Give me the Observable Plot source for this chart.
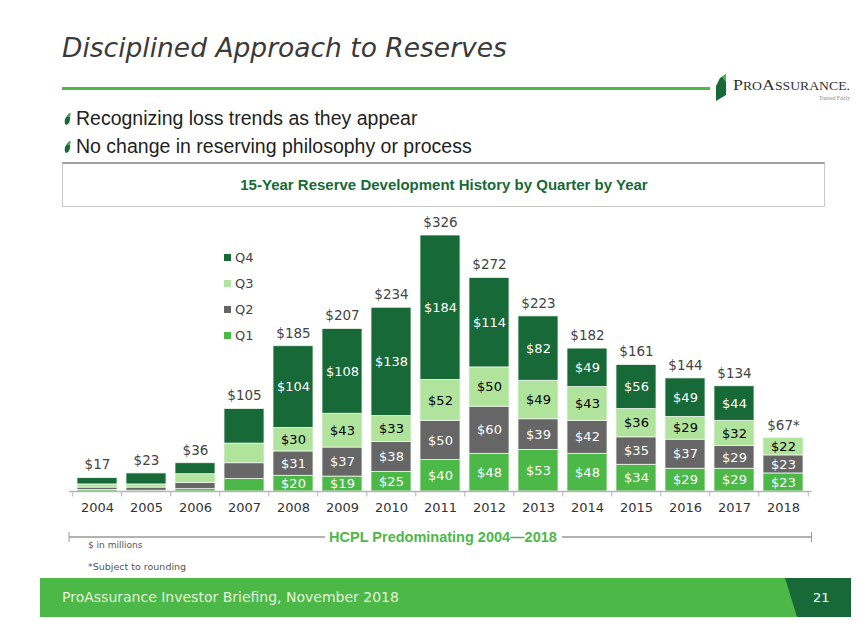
<!DOCTYPE html>
<html>
<head>
<meta charset="utf-8">
<script src="https://cdn.jsdelivr.net/npm/d3@7"></script>
<script src="https://cdn.jsdelivr.net/npm/@observablehq/plot@0.6"></script>
<style>
  html, body { margin: 0; padding: 0; background: #fff; }
  #slide { position: relative; width: 867px; height: 635px; overflow: hidden; font-family: "DejaVu Sans", Verdana, sans-serif; }
  .abs { position: absolute; }
  #title { left: 62px; top: 32px; font-size: 26.5px; font-style: italic; color: #3a3a3a; white-space: nowrap; }
  #rule { left: 62px; top: 87px; width: 648px; height: 3px; background: #4cb847; }
  .bullet { left: 62px; font-family: "Liberation Sans", Arial, sans-serif; font-size: 19.5px; color: #222; white-space: nowrap; display: flex; align-items: center; }
  .bullet svg { margin-right: 2px; }
  #box { left: 62px; top: 162px; width: 763px; height: 45px; border: 1px solid #c8c8c8; border-top: 2px solid #a0a0a0; box-sizing: border-box; }
  #subtitle { left: 62px; top: 176px; width: 764px; text-align: center; font-family: "Liberation Sans", Arial, sans-serif; font-weight: bold; font-size: 15px; color: #176937; }
  #chart { left: 0; top: 210px; }
  .leg { left: 224px; font-size: 13px; color: #444; display: flex; align-items: center; }
  .leg span.sw { display: inline-block; width: 7px; height: 7px; margin-right: 4px; }
  #footnote1 { left: 88px; top: 540px; font-size: 9px; color: #555; }
  #footnote2 { left: 88px; top: 561px; font-size: 9.5px; color: #555; }
  #band { left: 40px; top: 578px; width: 811px; height: 39px; background: #4cb847; }
  #bandtext { left: 62px; top: 589px; font-size: 14px; color: #e4f3dc; white-space: nowrap; }
  #pagenum { left: 813px; top: 590px; font-size: 13px; color: #fff; }
  #hcpl { left: 0; top: 527px; }
  #logo { left: 714px; top: 74px; }
</style>
</head>
<body>
<div id="slide">
  <div id="title" class="abs">Disciplined Approach to Reserves</div>
  <div id="rule" class="abs"></div>
  <svg id="logo" class="abs" width="145" height="30">
    <path d="M6,4 L12,0 L12,21 L2,27 L2,12 Z" fill="#176937"/>
    <path d="M8,3 L12,0 L12,8 Z" fill="#4cb847"/>
    <text x="19" y="16" font-family="Liberation Serif, serif" font-size="15" fill="#333" textLength="117" lengthAdjust="spacingAndGlyphs">P<tspan font-size="11.5">RO</tspan>A<tspan font-size="11.5">SSURANCE.</tspan></text>
    <text x="136" y="26" text-anchor="end" font-family="Liberation Serif, serif" font-size="5.5" fill="#888">Trusted Fairly</text>
  </svg>
  <div class="abs bullet" style="top:107px"><svg width="12" height="14"><path d="M3,7 Q6,2 8,1 L8,7 Q8,12 4,13 Q2,11 3,7 Z" fill="#176937"/><path d="M5,5 Q7,2 9,1 L8,5 Z" fill="#4cb847"/></svg>Recognizing loss trends as they appear</div>
  <div class="abs bullet" style="top:135px"><svg width="12" height="14"><path d="M3,7 Q6,2 8,1 L8,7 Q8,12 4,13 Q2,11 3,7 Z" fill="#176937"/><path d="M5,5 Q7,2 9,1 L8,5 Z" fill="#4cb847"/></svg>No change in reserving philosophy or process</div>
  <div id="box" class="abs"></div>
  <div id="subtitle" class="abs">15-Year Reserve Development History by Quarter by Year</div>
  <div id="chart" class="abs"></div>
  <div id="legend"></div>
  <svg id="hcpl" class="abs" width="867" height="22"></svg>
  <div id="footnote1" class="abs">$ in millions</div>
  <div id="footnote2" class="abs">*Subject to rounding</div>
  <div id="band" class="abs"></div>
  <svg class="abs" style="left:0;top:578px" width="867" height="39"><path d="M785,0 L851,0 L851,39 L797,39 Z" fill="#176937"/></svg>
  <div id="bandtext" class="abs">ProAssurance Investor Briefing, November 2018</div>
  <div id="pagenum" class="abs">21</div>
</div>
<script>
// ---- data ----
const years = [2004, 2005, 2006, 2007, 2008, 2009, 2010, 2011, 2012, 2013, 2014, 2015, 2016, 2017, 2018];
const q1 = [2, 1, 3, 16, 20, 19, 25, 40, 48, 53, 48, 34, 29, 29, 23];
const q2 = [3, 4, 8, 20, 31, 37, 38, 50, 60, 39, 42, 35, 37, 29, 23];
const q3 = [4, 4, 11, 25, 30, 43, 33, 52, 50, 49, 43, 36, 29, 32, 22];
const q4 = [8, 14, 14, 44, 104, 108, 138, 184, 114, 82, 49, 56, 49, 44, 0];
const totals = [17, 23, 36, 105, 185, 207, 234, 326, 272, 223, 182, 161, 144, 134, 67];
const totalLabels = ["$17", "$23", "$36", "$105", "$185", "$207", "$234", "$326", "$272", "$223", "$182", "$161", "$144", "$134", "$67*"];
const labelledFrom = 2008;
const quarters = ["Q1", "Q2", "Q3", "Q4"];
const quarterColors = ["#4cb847", "#666666", "#b0e39c", "#176937"];
const legendOrder = ["Q4", "Q3", "Q2", "Q1"];
const bracketText = "HCPL Predominating 2004\u20142018";

// ---- long table ----
const series = [q1, q2, q3, q4];
const rows = [];
years.forEach((yr, i) => {
  quarters.forEach((q, j) => rows.push({year: yr, q, value: series[j][i]}));
});

const W = 867, H = 310;
const mL = 69, mR = 55.5;
const step = (W - mL - mR) / years.length;

const labelText = (which) => (d) =>
  d.year >= labelledFrom && d.value > 0 && which(d.q) ? "$" + d.value : "";

const chart = Plot.plot({
  width: W,
  height: H,
  marginLeft: mL,
  marginRight: mR,
  marginTop: 25,
  marginBottom: 29,
  style: {fontFamily: "DejaVu Sans, Verdana, sans-serif", background: "transparent"},
  x: {type: "band", domain: years, paddingInner: 0.19, paddingOuter: 0.095, axis: null},
  y: {domain: [0, 326], axis: null},
  color: {domain: quarters, range: quarterColors},
  marks: [
    Plot.barY(rows, {x: "year", y: "value", fill: "q", stroke: "#eef6ea", strokeWidth: 0.8}),
    Plot.text(rows, Plot.stackY({x: "year", y: "value", z: "q", text: labelText(q => q !== "Q3"), fill: "white", fontSize: 13})),
    Plot.text(rows, Plot.stackY({x: "year", y: "value", z: "q", text: labelText(q => q === "Q3"), fill: "black", fontSize: 13})),
    Plot.text(years, {x: d => d, y: (d, i) => totals[i], text: (d, i) => totalLabels[i], dy: -13, fill: "#444", fontSize: 13.5}),
    Plot.ruleY([0], {stroke: "#b5b5b5", strokeWidth: 1.5}),
    Plot.ruleX(years, {x: d => d, y1: 0, y2: -7, dx: -step / 2, stroke: "#b5b5b5"}),
    Plot.ruleX(years.slice(-1), {x: d => d, y1: 0, y2: -7, dx: step / 2, stroke: "#b5b5b5"}),
    Plot.axisX({tickSize: 0, tickPadding: 11, fontSize: 13, color: "#333", tickFormat: d => String(d), label: null})
  ]
});
document.getElementById("chart").appendChild(chart);

// ---- legend ----
const legTops = [250, 276, 302, 328];
const legend = document.getElementById("legend");
legendOrder.forEach((q, k) => {
  const el = document.createElement("div");
  el.className = "abs leg";
  el.style.top = legTops[k] + "px";
  el.innerHTML = `<span class="sw" style="background:${quarterColors[quarters.indexOf(q)]}"></span>${q}`;
  legend.appendChild(el);
});

// ---- bracket ----
const hb = d3.select("#hcpl");
const x0 = mL, x1 = W - mR, cy = 10;
hb.append("line").attr("x1", x0).attr("x2", 325).attr("y1", cy).attr("y2", cy).attr("stroke", "#999").attr("stroke-width", 1.5);
hb.append("line").attr("x1", 562).attr("x2", x1).attr("y1", cy).attr("y2", cy).attr("stroke", "#999").attr("stroke-width", 1.5);
hb.append("line").attr("x1", x0).attr("x2", x0).attr("y1", cy - 5).attr("y2", cy + 5).attr("stroke", "#999");
hb.append("line").attr("x1", x1).attr("x2", x1).attr("y1", cy - 5).attr("y2", cy + 5).attr("stroke", "#999");
hb.append("text").attr("x", 443).attr("y", cy + 5).attr("text-anchor", "middle")
  .attr("font-family", "Liberation Sans, Arial, sans-serif").attr("font-weight", "bold").attr("font-size", 14.5)
  .attr("fill", "#4cb847").text(bracketText);
</script>
</body>
</html>
